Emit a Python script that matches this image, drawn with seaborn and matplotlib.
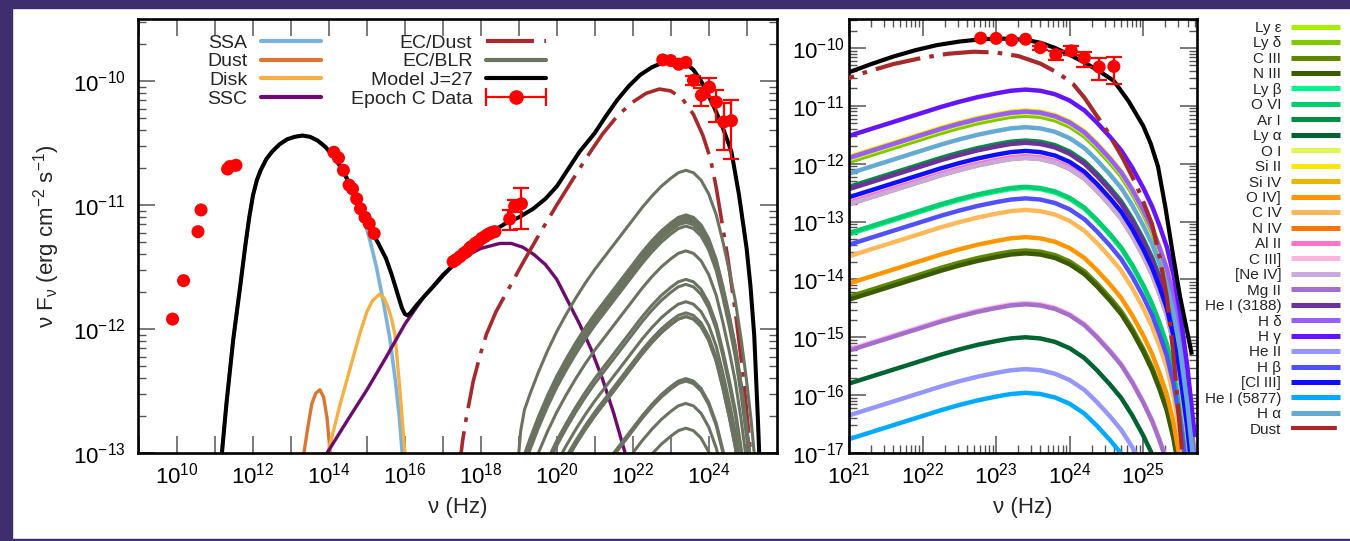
import numpy as np
import pandas as pd
import matplotlib
matplotlib.use("Agg")
import matplotlib.pyplot as plt
import seaborn as sns
from matplotlib.lines import Line2D
from matplotlib.legend_handler import HandlerTuple, HandlerLine2D
from matplotlib.ticker import (LogLocator, FuncFormatter, NullFormatter, NullLocator, FixedLocator)
from matplotlib.patches import Rectangle

# ---------------- values (log10 units) ----------------
ssa_lognu = [11.15, 11.3, 11.48, 11.66, 11.8, 11.9, 12.0, 12.1, 12.2, 12.35, 12.5, 12.7, 12.9, 13.1, 13.3,
             13.5, 13.7, 13.9, 14.1, 14.3, 14.5, 14.7, 14.9, 15.05, 15.25, 15.43, 15.6, 15.75, 15.85, 15.93]
ssa_logf = [-13.1, -12.6, -12.08, -11.66, -11.32, -11.1, -10.92, -10.8, -10.72, -10.63, -10.57, -10.51,
            -10.47, -10.45, -10.44, -10.45, -10.48, -10.53, -10.6, -10.69, -10.81, -10.95, -11.1, -11.25,
            -11.5, -11.78, -12.07, -12.42, -12.7, -13.0]

dust_lognu = [13.34, 13.45, 13.55, 13.65, 13.76, 13.86, 13.95, 14.03]
dust_logf = [-13.0, -12.78, -12.6, -12.52, -12.49, -12.55, -12.72, -13.0]

disk_lognu = [13.97, 14.3, 14.6, 14.82, 15.0, 15.15, 15.33, 15.45, 15.55, 15.65, 15.74, 15.87, 16.0]
disk_logf = [-13.0, -12.6, -12.27, -12.03, -11.86, -11.77, -11.72, -11.75, -11.82, -11.92, -12.05, -12.5, -13.0]

ssc_lognu = [13.95, 14.5, 15.0, 15.5, 16.0, 16.5, 17.0, 17.5, 18.0, 18.5, 18.8, 19.1, 19.4, 19.7, 20.0,
             20.3, 20.6, 20.9, 21.2, 21.5, 21.8]
ssc_logf = [-13.0, -12.73, -12.49, -12.23, -11.96, -11.74, -11.56, -11.43, -11.35, -11.31, -11.31, -11.34,
            -11.4, -11.48, -11.6, -11.78, -11.96, -12.16, -12.4, -12.68, -13.0]

ecdust_lognu = [17.4, 17.52, 17.62, 17.8, 18.0, 18.15, 18.4, 18.76, 19.1, 19.55, 20.0, 20.43, 20.8, 21.2,
                21.6, 22.0, 22.35, 22.7, 23.0, 23.3, 23.6, 23.85, 24.05, 24.2, 24.35, 24.5, 24.72, 24.9,
                25.0, 25.12, 25.22, 25.32, 25.41, 25.5, 25.56]
ecdust_logf = [-13.2, -12.9, -12.71, -12.42, -12.19, -12.04, -11.86, -11.66, -11.47, -11.23, -11.0, -10.79,
               -10.61, -10.43, -10.28, -10.17, -10.1, -10.065, -10.08, -10.14, -10.27, -10.44, -10.63,
               -10.86, -11.14, -11.42, -11.9, -12.35, -12.66, -13.05, -13.6, -14.3, -15.3, -16.6, -17.4]

model_lognu = [11.15, 11.3, 11.48, 11.66, 11.8, 11.9, 12.0, 12.1, 12.2, 12.35, 12.5, 12.7, 12.9, 13.1, 13.3,
               13.5, 13.7, 13.9, 14.1, 14.3, 14.5, 14.7, 14.9, 15.1, 15.3, 15.5, 15.65, 15.8, 15.92, 16.0,
               16.07, 16.15, 16.3, 16.5, 16.74, 17.0, 17.22, 17.5, 17.8, 18.1, 18.37, 18.7, 19.0, 19.38,
               19.7, 20.0, 20.3, 20.6, 21.0, 21.3, 21.6, 21.9, 22.2, 22.5, 22.8, 23.1, 23.4, 23.6, 23.8,
               24.0, 24.2, 24.4, 24.6, 24.8, 25.0, 25.1, 25.2, 25.3, 25.4, 25.5, 25.66]
model_logf = [-13.1, -12.6, -12.08, -11.66, -11.32, -11.1, -10.92, -10.8, -10.72, -10.63, -10.57, -10.51,
              -10.47, -10.45, -10.44, -10.45, -10.48, -10.53, -10.6, -10.69, -10.8, -10.93, -11.07, -11.2,
              -11.31, -11.43, -11.56, -11.71, -11.83, -11.88, -11.89, -11.87, -11.81, -11.74, -11.66,
              -11.57, -11.5, -11.42, -11.34, -11.26, -11.2, -11.14, -11.1, -11.03, -10.95, -10.85, -10.71,
              -10.57, -10.42, -10.28, -10.15, -10.04, -9.95, -9.89, -9.85, -9.84, -9.86, -9.91, -10.0,
              -10.12, -10.25, -10.4, -10.57, -10.92, -11.35, -11.65, -12.05, -12.75, -13.55, -14.3, -15.3]

# broad-line-region line components: common shape (dex below peak) and peak levels
blr_prof_lognu = [18.85, 18.95, 19.05, 19.15, 19.3, 19.5, 19.75, 20.0, 20.25, 20.5, 20.75, 21.0, 21.25,
                  21.5, 21.75, 22.0, 22.25, 22.5, 22.75, 23.0, 23.2, 23.4, 23.6, 23.8, 24.0, 24.2, 24.37,
                  24.55, 24.7, 24.85, 25.0, 25.12, 25.22, 25.32, 25.41, 25.5, 25.6, 25.7]
blr_prof_dlog = [-3.2, -2.45, -2.1, -1.93, -1.8, -1.64, -1.46, -1.3, -1.16, -1.03, -0.91, -0.8, -0.7,
                 -0.6, -0.5, -0.4, -0.3, -0.21, -0.13, -0.065, -0.02, 0.0, -0.02, -0.08, -0.19, -0.36,
                 -0.57, -0.82, -1.05, -1.35, -1.7, -2.02, -2.35, -2.72, -3.2, -3.85, -4.8, -6.0]

line_names = ["Ly ε", "Ly δ", "C III", "N III", "Ly β", "O VI", "Ar I", "Ly α", "O I", "Si II", "Si IV",
              "O IV]", "C IV", "N IV", "Al II", "C III]", "[Ne IV]", "Mg II", "He I (3188)", "H δ", "H γ",
              "He II", "H β", "[Cl III]", "He I (5877)", "H α"]
line_peak_logf = [-11.14, -11.17, -13.5, -13.55, -12.42, -12.4, -11.6, -15.0, -11.12, -11.08, -11.1,
                  -13.27, -12.8, -11.9, -11.87, -14.41, -11.9, -14.43, -11.64, -11.1, -10.72,
                  -15.55, -12.6, -11.78, -15.96, -11.37]
line_colors = ["#aaee00", "#80c800", "#5f8700", "#3c5a00", "#00f58c", "#00cd6e", "#008c46", "#006432",
               "#e1f550", "#ffe600", "#e6b900", "#ff9600", "#ffb95a", "#ff7300", "#ff73c8", "#ffb4dc",
               "#c8aadc", "#a56ecd", "#6e3296", "#965fff", "#6414ff", "#9696ff", "#5050ff", "#0f0fff",
               "#00aaff", "#64aad2"]

# observed data (Epoch C)
sync_lognu = [9.88, 10.17, 10.55, 10.63, 11.33, 11.39, 11.55, 14.13, 14.25, 14.38, 14.53, 14.62, 14.73,
              14.83, 14.95, 15.06, 15.19]
sync_logf = [-11.92, -11.61, -11.215, -11.04, -10.71, -10.69, -10.68, -10.575, -10.62, -10.72, -10.84,
             -10.87, -10.95, -11.03, -11.10, -11.15, -11.23]
xray_lognu = [17.27, 17.35, 17.45, 17.55, 17.62, 17.7, 17.75, 17.85, 17.93, 18.02, 18.1, 18.17, 18.24,
              18.3, 18.37, 18.76, 18.89, 19.07]
xray_logf = [-11.457, -11.44, -11.417, -11.39, -11.377, -11.35, -11.336, -11.31, -11.296, -11.27, -11.256,
             -11.24, -11.23, -11.22, -11.215, -11.113, -11.01, -10.99]
xray_logf_lo = [-11.457, -11.44, -11.417, -11.39, -11.377, -11.35, -11.336, -11.31, -11.296, -11.27,
                -11.256, -11.24, -11.23, -11.22, -11.215, -11.2, -11.06, -11.19]
xray_logf_hi = [-11.457, -11.44, -11.417, -11.39, -11.377, -11.35, -11.336, -11.31, -11.296, -11.27,
                -11.256, -11.24, -11.23, -11.22, -11.215, -11.04, -10.96, -10.86]
gam_lognu = [22.79, 23.0, 23.21, 23.4, 23.6, 23.81, 24.02, 24.2, 24.4, 24.6]
gam_logf = [-9.83, -9.835, -9.865, -9.85, -9.995, -10.115, -10.05, -10.17, -10.33, -10.32]
gam_logf_lo = [-9.83, -9.835, -9.865, -9.85, -10.03, -10.2, -10.13, -10.33, -10.56, -10.63]
gam_logf_hi = [-9.83, -9.835, -9.865, -9.85, -9.96, -10.06, -9.975, -10.07, -10.18, -10.15]

# tick decades shown on each axis
left_x_decades = list(range(9, 26))
left_y_decades = [-13, -12, -11, -10]
right_x_decades = [21, 22, 23, 24, 25]
right_y_decades = list(range(-17, -9))

# ---------------- styling ----------------
C_SSA, C_DUST, C_DISK, C_SSC = "#7cb2da", "#d97732", "#f5b041", "#6e0a6e"
C_ECD, C_BLR, C_MODEL, C_DATA = "#a8292b", "#6b7360", "black", "#ff0000"
DASHDOT = (13, 2.6, 1.3, 2.6)

sns.set_theme(style="ticks")
plt.rcParams["font.family"] = ["Liberation Sans", "DejaVu Sans"]
plt.rcParams["mathtext.fontset"] = "custom"
plt.rcParams["mathtext.rm"] = "Liberation Sans"
plt.rcParams["mathtext.it"] = "Liberation Sans:italic"
plt.rcParams["mathtext.bf"] = "Liberation Sans:bold"
plt.rcParams["mathtext.default"] = "regular"

W, H = 1350, 541
fig = plt.figure(figsize=(W / 100, H / 100), dpi=100, facecolor="white")
purple = "#3e2e6e"
for (x0, y0, w, h) in [(0, 0, 12, H), (0, H - 8, W, 8), (0, 0, W, 2)]:
    fig.patches.append(Rectangle((x0 / W, y0 / H), w / W, h / H, transform=fig.transFigure,
                                 color=purple, zorder=-5))

axL = fig.add_axes([138 / W, 1 - 453 / H, (777 - 138) / W, (453 - 19) / H])
axR = fig.add_axes([849 / W, 1 - 453 / H, (1197 - 849) / W, (453 - 19) / H])
for ax in (axL, axR):
    ax.set_xscale("log")
    ax.set_yscale("log")
    ax.set_facecolor("white")


def lin(v):
    return 10.0 ** np.asarray(v, dtype=float)


def curve(ax, lognu, logf, color, lw, dashes=None, zorder=2):
    sns.lineplot(x=lin(lognu), y=lin(logf), ax=ax, color=color, linewidth=lw, sort=False,
                 estimator=None, legend=False, zorder=zorder)
    ln = ax.get_lines()[-1]
    ln.set_solid_capstyle("butt")
    if dashes is not None:
        ln.set_dashes(dashes)
    return ln


# table of BLR line components built from the read shape and peak levels
rows = []
for name, peak in zip(line_names, line_peak_logf):
    for x, d in zip(blr_prof_lognu, blr_prof_dlog):
        rows.append((name, 10.0 ** x, 10.0 ** (peak + d)))
blr = pd.DataFrame(rows, columns=["line", "nu", "flux"])

# ---------------- left panel ----------------
curve(axL, ssa_lognu, ssa_logf, C_SSA, 2.6)
curve(axL, dust_lognu, dust_logf, C_DUST, 2.4)
curve(axL, disk_lognu, disk_logf, C_DISK, 2.4)
curve(axL, ssc_lognu, ssc_logf, C_SSC, 2.4)
curve(axL, ecdust_lognu, ecdust_logf, C_ECD, 2.6, dashes=DASHDOT)
sns.lineplot(data=blr, x="nu", y="flux", units="line", estimator=None, color=C_BLR, linewidth=2.2,
             sort=False, ax=axL, legend=False, zorder=2)
curve(axL, model_lognu, model_logf, C_MODEL, 2.9, zorder=3)


def data_points(ax, lognu, logf, lo=None, hi=None):
    x, y = lin(lognu), lin(logf)
    if lo is not None:
        ylo, yhi = lin(lo), lin(hi)
        mask = (yhi - ylo) > 0
        ax.errorbar(x[mask], y[mask], yerr=[(y - ylo)[mask], (yhi - y)[mask]], fmt="none",
                    ecolor=C_DATA, elinewidth=1.6, capsize=6, capthick=1.6, zorder=8)
    sns.scatterplot(x=x, y=y, ax=ax, color=C_DATA, s=88, edgecolor="none", linewidth=0, zorder=9,
                    legend=False)


data_points(axL, sync_lognu, sync_logf)
data_points(axL, xray_lognu, xray_logf, xray_logf_lo, xray_logf_hi)
data_points(axL, gam_lognu, gam_logf, gam_logf_lo, gam_logf_hi)

axL.set_xlim(lin(8.97), lin(25.8))
axL.set_ylim(1e-13, lin(-9.5))

# ---------------- right panel ----------------
sns.lineplot(data=blr, x="nu", y="flux", hue="line", hue_order=line_names,
             palette=dict(zip(line_names, line_colors)), estimator=None, linewidth=3.2, sort=False,
             ax=axR, legend=False, zorder=2)
for ln in axR.get_lines():
    ln.set_solid_capstyle("butt")
curve(axR, ecdust_lognu, ecdust_logf, C_ECD, 3.0, dashes=(11, 2.2, 1.1, 2.2), zorder=3)
curve(axR, model_lognu, model_logf, C_MODEL, 3.0, zorder=4)
data_points(axR, gam_lognu, gam_logf, gam_logf_lo, gam_logf_hi)
axR.set_xlim(1e21, lin(25.73))
axR.set_ylim(1e-17, lin(-9.5))


# ---------------- axes formatting ----------------
def pow10(v, pos):
    e = int(round(np.log10(v)))
    return r"$\mathdefault{10^{%d}}$" % e


def pow10_even(v, pos):
    e = int(round(np.log10(v)))
    return r"$\mathdefault{10^{%d}}$" % e if e % 2 == 0 else ""


axL.xaxis.set_major_locator(FixedLocator(lin(left_x_decades)))
axL.xaxis.set_major_formatter(FuncFormatter(pow10_even))
axL.xaxis.set_minor_locator(NullLocator())
axL.yaxis.set_major_locator(FixedLocator(lin(left_y_decades)))
axR.xaxis.set_major_locator(FixedLocator(lin(right_x_decades)))
axR.xaxis.set_major_formatter(FuncFormatter(pow10))
axR.xaxis.set_minor_locator(LogLocator(base=10, subs=np.arange(2, 10), numticks=60))
axR.yaxis.set_major_locator(FixedLocator(lin(right_y_decades)))
for ax in (axL, axR):
    ax.yaxis.set_major_formatter(FuncFormatter(pow10))
    ax.yaxis.set_minor_locator(LogLocator(base=10, subs=np.arange(2, 10), numticks=60))
    ax.xaxis.set_minor_formatter(NullFormatter())
    ax.yaxis.set_minor_formatter(NullFormatter())
    ax.tick_params(which="both", direction="in", top=True, right=True, color="#555555",
                   labelsize=16, labelcolor="black")
    ax.tick_params(which="major", length=12, width=1.1)
    ax.tick_params(which="minor", length=6, width=1.0)
    ax.tick_params(axis="x", pad=7)
    for sp in ax.spines.values():
        sp.set_linewidth(1.9)
        sp.set_color("black")
    ax.set_xlabel("ν (Hz)", fontsize=16, labelpad=6)
axL.tick_params(axis="y", pad=9)
axR.tick_params(axis="y", pad=3)
axL.set_ylabel("ν F$_{ν}$ (erg cm$^{-2}$ s$^{-1}$)", fontsize=16, labelpad=8)
axR.set_ylabel("")

# ---------------- legends ----------------
hL = [Line2D([], [], color=C_SSA, lw=3), Line2D([], [], color=C_DUST, lw=3),
      Line2D([], [], color=C_DISK, lw=3), Line2D([], [], color=C_SSC, lw=3),
      Line2D([], [], color=C_ECD, lw=3, dashes=(11.5, 2.5, 1.2, 2.5)),
      Line2D([], [], color=C_BLR, lw=3), Line2D([], [], color=C_MODEL, lw=3)]
caps = Line2D([], [], color=C_DATA, lw=1.6, marker="|", markersize=13, markeredgewidth=1.6)
dot = Line2D([], [], color=C_DATA, marker="o", markersize=9.5, linestyle="none")
labL = ["SSA", "Dust", "Disk", "SSC", "EC/Dust", "EC/BLR", "Model J=27", "Epoch C Data"]
axL.legend(hL + [(caps, dot)], labL, ncol=2, loc="upper left",
           bbox_to_anchor=(207 / W, 1 - 34 / H), bbox_transform=fig.transFigure,
           frameon=False, markerfirst=False, fontsize=14, handlelength=3.05, handletextpad=0.72,
           columnspacing=1.55, labelspacing=0.06, borderpad=0, borderaxespad=0,
           handler_map={tuple: HandlerTuple(ndivide=1), caps: HandlerLine2D(numpoints=2, marker_pad=0)})

hR = [Line2D([], [], color=c, lw=3.6, solid_capstyle="butt") for c in line_colors]
hR.append(Line2D([], [], color=C_ECD, lw=3.0, dashes=(11, 2.2, 1.1, 2.2)))
fig.legend(hR, line_names + ["Dust"], loc="upper right", bbox_to_anchor=(1340 / W, 1 - 21 / H),
           frameon=False, markerfirst=False, fontsize=11, handlelength=3.2, handletextpad=0.65,
           labelspacing=0.095, borderpad=0, borderaxespad=0)

fig.savefig("out.png", dpi=100, facecolor="white")
